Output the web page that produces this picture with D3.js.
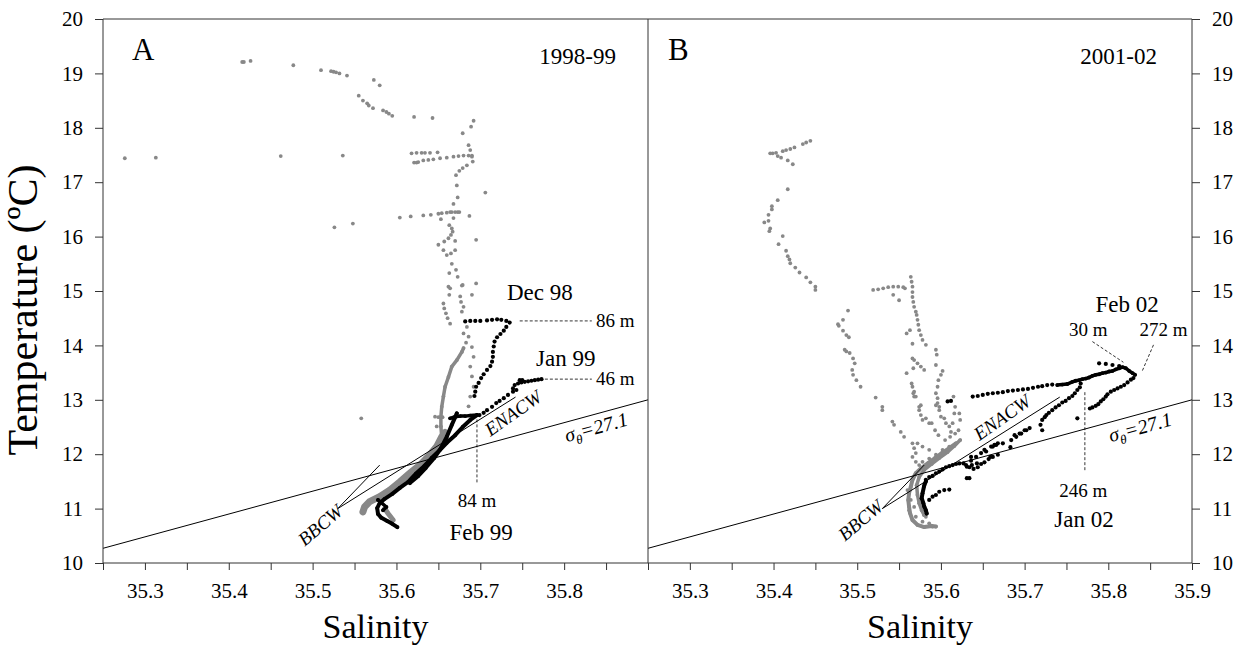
<!DOCTYPE html>
<html>
<head>
<meta charset="utf-8">
<script src="https://cdn.jsdelivr.net/npm/d3@7"></script>
<style>
  html, body { margin: 0; padding: 0; background: #fff; }
  svg { display: block; font-family: "Liberation Serif", "Times New Roman", Times, serif; }
</style>
</head>
<body>
<svg id="chart" width="1248" height="648"></svg>
<script>
// ---------- axes ----------
const salinityTicks = [35.25, 35.30, 35.35, 35.40, 35.45, 35.50, 35.55, 35.60, 35.65, 35.70, 35.75, 35.80, 35.85, 35.90];
const salinityLabelsA = ["35.3", "35.4", "35.5", "35.6", "35.7", "35.8"];
const salinityLabelsB = ["35.3", "35.4", "35.5", "35.6", "35.7", "35.8", "35.9"];
const temperatureTicks = [10, 11, 12, 13, 14, 15, 16, 17, 18, 19, 20];
const temperatureLabels = ["10", "11", "12", "13", "14", "15", "16", "17", "18", "19", "20"];

// ---------- reference lines (salinity, temperature) ----------
const sigmaLine = [[35.25, 10.27], [35.90, 13.00]];
const enacwLine = [[35.530, 11.0], [35.742, 13.05]];
const bbcwLine  = [[35.530, 11.0], [35.580, 11.80]];

// ---------- 1998-99 ----------
const gray98Dots = [
  [35.416,19.21],[35.418,19.21],[35.426,19.23],[35.477,19.15],[35.510,19.06],[35.522,19.04],[35.525,19.03],
  [35.528,19.02],[35.532,19.00],[35.541,18.96],[35.573,18.88],[35.580,18.78],[35.555,18.59],[35.560,18.50],
  [35.565,18.45],[35.567,18.41],[35.572,18.36],[35.584,18.32],[35.588,18.29],[35.591,18.26],[35.595,18.22],
  [35.621,18.20],[35.643,18.18],[35.692,18.13],[35.689,18.02],[35.679,17.90],[35.686,17.68],[35.688,17.59],
  [35.690,17.49],
  [35.618,17.53],[35.624,17.54],[35.630,17.54],[35.634,17.54],[35.640,17.54],[35.649,17.55],
  [35.621,17.36],[35.624,17.36],[35.626,17.37],[35.632,17.40],[35.638,17.41],[35.644,17.42],[35.652,17.44],
  [35.660,17.45],[35.668,17.47],[35.674,17.48],[35.680,17.49],[35.686,17.49],[35.690,17.47],
  [35.691,17.38],[35.684,17.31],[35.679,17.26],[35.675,17.21],[35.671,17.13],[35.672,16.94],[35.673,16.72],
  [35.706,16.81],[35.668,16.60],
  [35.604,16.35],[35.617,16.37],[35.632,16.39],[35.641,16.40],[35.650,16.42],[35.654,16.43],[35.660,16.44],
  [35.664,16.45],[35.666,16.45],[35.670,16.45],[35.673,16.45],[35.675,16.45],[35.687,16.38],[35.653,16.32],[35.668,16.34],
  [35.663,16.21],[35.666,16.15],[35.667,16.09],[35.665,16.03],[35.662,15.97],[35.657,15.91],[35.650,15.85],
  [35.670,15.92],[35.695,15.94],[35.656,15.75],[35.660,15.66],[35.665,15.69],[35.670,15.75],[35.666,15.50],
  [35.663,15.33],[35.671,15.39],[35.673,15.26],[35.678,15.10],[35.695,15.14],[35.664,15.05],
  [35.526,16.17],[35.548,16.24],[35.276,17.44],[35.313,17.45],[35.462,17.48],[35.536,17.49],[35.558,12.66],
  [35.662,15.08],[35.679,15.11],[35.663,14.93],[35.676,14.90],[35.677,14.80],[35.680,14.71],[35.678,14.62],
  [35.690,14.93],[35.656,14.77],[35.657,14.68],[35.659,14.59],[35.661,14.50],[35.664,14.40],
  [35.684,14.34],[35.686,14.16],[35.690,13.97],[35.692,13.79],[35.688,13.61],[35.690,13.43],[35.692,13.24],
  [35.688,13.06],[35.686,12.88],[35.683,14.05],[35.680,14.22],
  [35.646,12.69],[35.648,12.51],[35.650,12.68],[35.655,12.68]
];
const gray98Trail = [
  [35.680,13.95],[35.678,13.88],[35.672,13.73],[35.666,13.61],[35.662,13.42],[35.658,13.24],[35.656,13.06],
  [35.654,12.87],[35.653,12.69],[35.653,12.51],[35.654,12.32]
];
const gray98Band = [
  [35.658,12.40],[35.654,12.32],[35.648,12.14],[35.640,11.99],[35.628,11.80],[35.616,11.65],[35.604,11.49],
  [35.592,11.34],[35.580,11.22],[35.568,11.13],[35.562,11.03],[35.560,10.94]
];
const gray98Tail = [[35.586,11.00],[35.590,10.91],[35.596,10.79]];

const dec98 = [
  [35.682,14.44],[35.688,14.45],[35.694,14.45],[35.700,14.45],[35.708,14.46],[35.714,14.47],[35.720,14.48],
  [35.725,14.47],[35.731,14.45],[35.735,14.42],[35.731,14.34],[35.728,14.27],[35.724,14.21],[35.720,14.15],
  [35.717,14.07],[35.716,13.98],[35.715,13.88],[35.715,13.79],[35.714,13.70],[35.712,13.62],[35.708,13.55],
  [35.704,13.47],[35.701,13.40],[35.698,13.31],[35.695,13.24],[35.694,13.15],[35.693,13.07]
];
const jan99 = [
  [35.773,13.38],[35.769,13.37],[35.765,13.36],[35.761,13.35],[35.757,13.34],[35.753,13.33],[35.749,13.32],
  [35.745,13.30],[35.741,13.27],[35.739,13.21],[35.743,13.18],[35.739,13.15],[35.733,13.09],[35.728,13.03],
  [35.723,12.98],[35.719,12.94],[35.714,12.87],[35.708,12.81],[35.704,12.76],[35.699,12.72],
  [35.750,13.36],[35.747,13.36]
];
const feb99Top = [[35.664,12.66],[35.670,12.69],[35.676,12.70],[35.682,12.70],[35.688,12.71],[35.696,12.72]];
const feb99StrandA = [
  [35.672,12.75],[35.666,12.54],[35.660,12.32],[35.653,12.11],[35.645,11.93],[35.635,11.75],[35.626,11.60],[35.616,11.47]
];
const feb99StrandB = [
  [35.696,12.72],[35.688,12.63],[35.679,12.50],[35.670,12.35],[35.660,12.21],[35.652,12.08],[35.642,11.93],
  [35.633,11.78],[35.623,11.64],[35.614,11.49],[35.604,11.38],[35.595,11.27],[35.586,11.18],[35.580,11.10],
  [35.577,11.01],[35.578,10.90],[35.582,10.83],[35.589,10.77],[35.595,10.72],[35.601,10.66]
];
const feb99Spur = [[35.578,11.16],[35.588,11.03],[35.584,10.97]];

// ---------- 2001-02 ----------
const gray01Dots = [
  [35.396,17.53],[35.399,17.53],[35.403,17.54],[35.411,17.57],[35.415,17.59],[35.420,17.61],[35.425,17.64],
  [35.435,17.70],[35.439,17.73],[35.444,17.76],[35.405,17.48],[35.409,17.45],[35.417,17.40],[35.423,17.33],
  [35.417,16.87],[35.405,16.67],[35.398,16.56],[35.398,16.50],[35.394,16.40],[35.394,16.29],[35.389,16.26],
  [35.396,16.15],[35.395,16.10],[35.411,16.01],[35.406,15.86],[35.415,15.74],[35.417,15.64],[35.419,15.58],
  [35.420,15.51],[35.426,15.43],[35.431,15.34],[35.439,15.25],[35.444,15.16],[35.450,15.08],[35.450,15.02],
  [35.519,15.02],[35.525,15.03],[35.531,15.05],[35.537,15.07],[35.543,15.08],[35.549,15.08],[35.555,15.07],
  [35.557,15.05],[35.543,14.93],[35.550,14.83],
  [35.564,15.26],[35.565,15.17],[35.566,15.08],[35.566,14.98],[35.566,14.89],[35.567,14.80],[35.568,14.71],
  [35.570,14.62],[35.571,14.56],[35.572,14.47],[35.573,14.38],[35.574,14.28],[35.576,14.19],[35.578,14.10],
  [35.582,14.01],
  [35.489,14.64],[35.483,14.47],[35.477,14.39],[35.478,14.36],[35.483,14.27],[35.487,14.19],[35.490,14.15],
  [35.485,13.92],[35.487,13.89],[35.491,13.86],[35.495,13.76],[35.497,13.67],[35.494,13.55],[35.495,13.46],
  [35.499,13.36],[35.504,13.24],[35.522,13.04],[35.530,12.87],
  [35.559,14.22],[35.563,14.28],[35.566,14.03],[35.566,13.76],[35.568,13.73],[35.572,13.67],[35.576,13.61],
  [35.580,13.55],[35.567,13.58],[35.559,13.49],[35.565,13.30],[35.566,13.24],[35.567,13.12],[35.568,13.06],
  [35.576,12.90],[35.574,12.87],
  [35.594,13.92],[35.595,13.83],[35.594,13.64],[35.602,13.53],[35.600,13.46],[35.597,13.36],[35.596,13.24],
  [35.594,13.12],[35.596,13.03],[35.594,12.90],[35.598,12.87],
  [35.530,12.81],[35.542,12.60],[35.544,12.54],[35.552,12.41],[35.556,12.32],[35.566,12.20],[35.568,12.11],
  [35.570,12.02],[35.568,13.15],[35.570,13.06],[35.574,12.81],[35.576,12.72],[35.578,12.63],[35.582,12.66],
  [35.586,12.57],[35.596,12.94],[35.598,12.81],[35.600,12.69],[35.589,12.57],[35.593,12.44],[35.597,12.35],
  [35.605,12.26],[35.611,12.32],[35.617,12.38],[35.621,12.44],[35.623,12.63],[35.622,12.75],[35.606,12.57],
  [35.610,12.51],[35.604,12.66],
  [35.612,12.41],[35.614,12.57],[35.616,12.75],[35.617,12.87],[35.615,13.06],
  [35.566,11.95],[35.570,11.86],[35.574,11.80],[35.578,11.86],[35.586,11.92],[35.594,11.99],[35.602,12.08],
  [35.610,12.14],[35.586,12.08],[35.578,12.14],[35.572,12.20],[35.564,11.16],[35.568,11.03],[35.570,10.85],
  [35.578,10.76],[35.586,10.73],[35.590,10.67],[35.562,10.97],[35.560,11.34],[35.582,10.85]
];
const gray01BandA = [
  [35.618,12.20],[35.610,12.11],[35.601,12.02],[35.593,11.93],[35.585,11.84],[35.577,11.75],[35.570,11.65],
  [35.566,11.53],[35.564,11.40],[35.562,11.29],[35.561,11.16],[35.562,11.03],[35.563,10.92],[35.566,10.79],
  [35.572,10.70],[35.580,10.66],[35.589,10.68],[35.594,10.67]
];
const gray01BandB = [
  [35.623,12.26],[35.616,12.15],[35.608,12.04],[35.598,11.93],[35.589,11.82],[35.580,11.71],[35.574,11.58],
  [35.571,11.43],[35.572,11.25],[35.574,11.10],[35.577,10.97],[35.580,10.88]
];

const feb02Dotted = [
  [35.608,12.97],[35.612,12.98],
  [35.638,13.06],[35.644,13.07],[35.650,13.09],[35.656,13.11],[35.662,13.12],[35.668,13.13],[35.674,13.14],
  [35.680,13.16],[35.686,13.17],[35.692,13.18],[35.698,13.19],[35.704,13.20],[35.710,13.22],[35.716,13.24],
  [35.721,13.25],[35.727,13.27],[35.733,13.28]
];
const feb02Dense = [
  [35.739,13.27],[35.745,13.28],[35.751,13.29],[35.757,13.33],[35.761,13.35],[35.765,13.36],[35.769,13.38],
  [35.773,13.39],[35.777,13.41],[35.781,13.44],[35.785,13.46],[35.789,13.47],[35.793,13.49],[35.797,13.50],
  [35.801,13.52],[35.805,13.53],[35.809,13.56],[35.813,13.58],[35.817,13.60],[35.821,13.58],[35.825,13.53],
  [35.829,13.49],[35.832,13.46]
];
const feb02Return = [
  [35.830,13.40],[35.827,13.37],[35.823,13.32],[35.819,13.27],[35.815,13.24],[35.811,13.21],[35.807,13.18],
  [35.803,13.15],[35.799,13.10],[35.797,13.06],[35.794,13.01],[35.791,12.97],[35.788,12.92],[35.785,12.89],
  [35.781,12.86],[35.778,12.84],
  [35.789,13.67],[35.797,13.66],[35.805,13.64],[35.813,13.62]
];
const jan02Dots = [
  [35.767,13.30],[35.766,13.23],[35.763,13.18],[35.760,13.12],[35.757,13.07],[35.753,13.03],[35.749,12.98],
  [35.745,12.95],[35.741,12.90],[35.737,12.86],[35.733,12.81],[35.729,12.76],[35.726,12.72],[35.724,12.68],
  [35.721,12.63],[35.719,12.54],[35.721,12.44],[35.700,12.44],[35.694,12.38],[35.688,12.35],
  [35.668,12.20],[35.664,12.17],[35.660,12.14],[35.652,12.08],[35.659,11.95],[35.636,11.95],[35.627,11.83],
  [35.631,11.77],[35.637,11.80],[35.643,11.83],[35.631,11.56],[35.763,12.66],
  [35.630,11.80],[35.634,11.76],[35.639,11.73],[35.644,11.76],[35.648,11.82],[35.652,11.85],[35.657,11.91],
  [35.662,11.95],[35.668,11.99],[35.634,11.56],[35.636,11.88],[35.642,11.95],[35.648,12.02],[35.654,12.05],
  [35.662,12.14],[35.666,12.17],[35.674,12.20],[35.684,12.26],[35.690,12.32],[35.696,12.38],[35.702,12.44],
  [35.706,12.48],[35.683,12.13],
  [35.582,11.53],[35.586,11.58],[35.590,11.60],[35.594,11.65],[35.598,11.68],[35.602,11.72],[35.606,11.76],
  [35.610,11.78],[35.614,11.80],[35.618,11.82],[35.622,11.83],
  [35.586,11.16],[35.590,11.22],[35.594,11.25],[35.598,11.31],[35.604,11.34],[35.610,11.35]
];
const jan02Deep = [
  [35.582,11.50],[35.580,11.42],[35.578,11.28],[35.577,11.19],[35.579,11.10],[35.580,11.04],[35.582,10.97],[35.583,10.91]
];

// ---------- drawing ----------
const svg = d3.select("#chart");
const TOP = 19, BOTTOM = 563;
const frameColor = "#333";
const grayColor = "#888";
const serif = "Liberation Serif, Times New Roman, serif";

const y = d3.scaleLinear().domain([10, 20]).range([BOTTOM, TOP]);

function labelFormat(labels) {
  return d => labels.find(l => Math.abs(+l - d) < 1e-6) || "";
}

function drawPanel(x0, x1, labels, layers, notes) {
  const x = d3.scaleLinear().domain([35.25, 35.90]).range([x0, x1]);
  const g = svg.append("g");
  const line = d3.line().x(d => x(d[0])).y(d => y(d[1]));

  // data layers
  layers.forEach(layer => {
    if (layer.trail) {
      g.append("path").attr("d", line(layer.data))
        .attr("fill", "none").attr("stroke", layer.color)
        .attr("stroke-width", layer.trail).attr("stroke-linejoin", "round").attr("stroke-linecap", "round");
    }
    g.append("g").selectAll("circle").data(layer.data).join("circle")
      .attr("cx", d => x(d[0])).attr("cy", d => y(d[1]))
      .attr("r", layer.r || 1.9).attr("fill", layer.color);
  });

  // reference lines
  const refs = g.append("g").attr("fill", "none").attr("stroke", "#000").attr("stroke-width", 1);
  [sigmaLine, enacwLine, bbcwLine].forEach(l => refs.append("path").attr("d", line(l)));

  // bottom axis
  const ax = g.append("g").attr("transform", `translate(0,${BOTTOM})`)
    .call(d3.axisBottom(x).tickValues(salinityTicks).tickSize(7).tickPadding(13).tickFormat(labelFormat(labels)));
  ax.select(".domain").remove();
  ax.selectAll("line").attr("stroke", frameColor);
  ax.selectAll("text").attr("font-size", 21).attr("fill", "#000").attr("font-family", serif);

  // x title
  g.append("text").attr("x", (x0 + x1) / 2).attr("y", 638).attr("text-anchor", "middle")
    .attr("font-size", 34).text("Salinity");

  // annotations
  notes(g, x);
  return x;
}

function dashed(g, x, a, b) {
  g.append("line").attr("x1", x(a[0])).attr("y1", y(a[1])).attr("x2", x(b[0])).attr("y2", y(b[1]))
    .attr("stroke", "#000").attr("stroke-width", 0.8).attr("stroke-dasharray", "3,2");
}
function label(g, px, py, txt, size, anchor) {
  return g.append("text").attr("x", px).attr("y", py).attr("font-size", size)
    .attr("text-anchor", anchor || "middle").text(txt);
}
function waterLabels(g, x, enacwAt, bbcwAt, sigmaAt) {
  g.append("text").attr("font-size", 19).attr("font-style", "italic").attr("text-anchor", "middle")
    .attr("transform", `translate(${x(enacwAt[0])},${y(enacwAt[1])}) rotate(-35)`).attr("dy", "0.35em").text("ENACW");
  g.append("text").attr("font-size", 19).attr("font-style", "italic").attr("text-anchor", "middle")
    .attr("transform", `translate(${x(bbcwAt[0])},${y(bbcwAt[1])}) rotate(-40)`).attr("dy", "0.35em").text("BBCW");
  const s = g.append("text").attr("font-size", 20).attr("font-style", "italic").attr("text-anchor", "middle")
    .attr("transform", `translate(${x(sigmaAt[0])},${y(sigmaAt[1])}) rotate(-15.3)`).attr("dy", "0.35em");
  s.append("tspan").text("σ");
  s.append("tspan").attr("font-size", 13).attr("dy", "5").text("θ");
  s.append("tspan").attr("dy", "-5").text("=27.1");
}

const xA = drawPanel(103, 648, salinityLabelsA, [
  { data: gray98Dots, color: grayColor },
  { data: gray98Trail, color: grayColor, trail: 3.5 },
  { data: gray98Band, color: grayColor, trail: 7 },
  { data: gray98Tail, color: grayColor, trail: 5 },
  { data: dec98, color: "#000", r: 2.1 },
  { data: jan99, color: "#000", r: 2.1 },
  { data: feb99Top, color: "#000", trail: 3.5 },
  { data: feb99StrandA, color: "#000", trail: 4 },
  { data: feb99StrandB, color: "#000", trail: 4 },
  { data: feb99Spur, color: "#000", trail: 3.5 }
], (g, x) => {
  label(g, 132, 60, "A", 31, "start");
  label(g, 616, 64, "1998-99", 23, "end");
  label(g, x(35.771), y(14.835), "Dec 98", 23);
  dashed(g, x, [35.747, 14.45], [35.833, 14.45]);
  label(g, x(35.838), y(14.45) + 6, "86 m", 19, "start");
  label(g, x(35.802), y(13.62), "Jan 99", 23);
  dashed(g, x, [35.777, 13.38], [35.833, 13.38]);
  label(g, x(35.838), y(13.38) + 6, "46 m", 19, "start");
  dashed(g, x, [35.696, 12.64], [35.696, 11.47]);
  label(g, x(35.696), y(11.03), "84 m", 19);
  label(g, x(35.701), y(10.42), "Feb 99", 23);
  waterLabels(g, x, [35.739, 12.76], [35.509, 10.70], [35.838, 12.50]);
});

const xB = drawPanel(648, 1192, salinityLabelsB, [
  { data: gray01Dots, color: grayColor },
  { data: gray01BandA, color: grayColor, trail: 4 },
  { data: gray01BandB, color: grayColor, trail: 3.5 },
  { data: feb02Dotted, color: "#000", r: 2.1 },
  { data: feb02Dense, color: "#000", trail: 3.5 },
  { data: feb02Return, color: "#000", r: 2.1 },
  { data: jan02Dots, color: "#000", r: 2.1 },
  { data: jan02Deep, color: "#000", trail: 4 }
], (g, x) => {
  label(g, 668, 60, "B", 31, "start");
  label(g, 1157, 64, "2001-02", 23, "end");
  label(g, x(35.8225), y(14.61), "Feb 02", 23);
  label(g, x(35.776), y(14.17), "30 m", 19);
  dashed(g, x, [35.781, 14.07], [35.818, 13.69]);
  label(g, x(35.866), y(14.17), "272 m", 19);
  dashed(g, x, [35.854, 14.01], [35.840, 13.51]);
  dashed(g, x, [35.772, 13.14], [35.772, 11.69]);
  label(g, x(35.770), y(11.21), "246 m", 19);
  label(g, x(35.771), y(10.66), "Jan 02", 23);
  waterLabels(g, x, [35.673, 12.68], [35.504, 10.79], [35.838, 12.50]);
});

// frame
const frame = svg.append("g").attr("stroke", frameColor).attr("stroke-width", 1).attr("fill", "none");
frame.append("line").attr("x1", xA(35.25)).attr("x2", xB(35.90)).attr("y1", y(20)).attr("y2", y(20));
frame.append("line").attr("x1", xA(35.25)).attr("x2", xB(35.90)).attr("y1", y(10)).attr("y2", y(10));
[xA(35.25), xA(35.90), xB(35.90)].forEach(px =>
  frame.append("line").attr("x1", px).attr("x2", px).attr("y1", y(20)).attr("y2", y(10)));

// temperature axes
function styleAxis(a) {
  a.select(".domain").remove();
  a.selectAll("line").attr("stroke", frameColor);
  a.selectAll("text").attr("font-size", 21).attr("fill", "#000").attr("font-family", serif);
}
svg.append("g").attr("transform", `translate(${xA(35.25)},0)`)
  .call(d3.axisLeft(y).tickValues(temperatureTicks).tickSize(8).tickPadding(12)
    .tickFormat((d, i) => temperatureLabels[i])).call(styleAxis);
svg.append("g").attr("transform", `translate(${xB(35.90)},0)`)
  .call(d3.axisRight(y).tickValues(temperatureTicks).tickSize(8).tickPadding(12)
    .tickFormat((d, i) => temperatureLabels[i])).call(styleAxis);

// y title
svg.append("text").attr("transform", "translate(37,310) rotate(-90)").attr("text-anchor", "middle")
  .attr("font-size", 42).text("Temperature (ºC)");
</script>
</body>
</html>
